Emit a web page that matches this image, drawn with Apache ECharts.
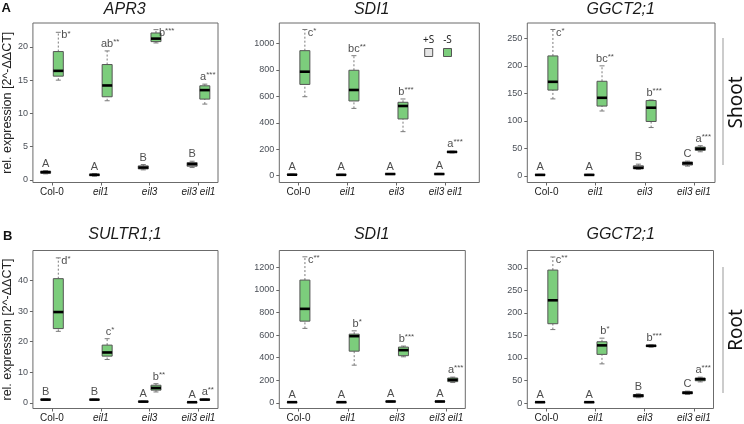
<!DOCTYPE html>
<html><head><meta charset="utf-8">
<script src="https://cdn.jsdelivr.net/npm/echarts@6/dist/echarts.min.js"></script>
<style>html,body{margin:0;padding:0;background:#fff}#c{width:744px;height:424px}</style>
</head><body><div id="c"></div>
<script>
// ---------------- DATA ----------------
const genotypes = ['Col-0', 'eil1', 'eil3', 'eil3 eil1'];
const conditions = ['+S', '-S'];
const panelTitles = ['APR3', 'SDI1', 'GGCT2;1', 'SULTR1;1', 'SDI1', 'GGCT2;1'];
const tissues = ['Shoot', 'Root'];
const yAxisTitle = 'rel. expression [2^-ΔΔCT]';

// box statistics per genotype: [min, Q1, median, Q3, max]
const apr3ShootPlusS  = [[0.9, 1.0, 1.15, 1.3, 1.4], [0.55, 0.65, 0.75, 0.85, 0.95], [1.5, 1.65, 1.85, 2.1, 2.3], [1.85, 2.05, 2.35, 2.6, 2.8]];
const apr3ShootMinusS = [[15.0, 15.6, 16.4, 19.3, 22.2], [11.9, 12.5, 14.2, 17.35, 19.4], [20.6, 20.8, 21.25, 22.1, 22.6], [11.4, 12.15, 13.5, 14.15, 14.4]];
const sdi1ShootPlusS  = [[4, 6, 8, 10, 12], [3, 5, 7, 9, 11], [9, 11, 13, 15, 17], [9, 11, 13, 15, 18]];
const sdi1ShootMinusS = [[597, 690, 786, 945, 1105], [509, 565, 648, 797, 907], [333, 429, 527, 555, 580], [172, 176, 180, 183, 186]];
const ggctShootPlusS  = [[1, 1.5, 2, 2.5, 3], [1, 1.5, 2, 2.5, 3], [12, 13, 15, 18.5, 21.5], [18, 20, 23, 25.5, 27]];
const ggctShootMinusS = [[140, 156, 171, 218, 266], [118, 127, 142, 172, 200], [88, 99, 124, 137, 138], [44, 46.5, 49.5, 52.5, 55]];
const sultrRootPlusS  = [[0.9, 1.0, 1.1, 1.2, 1.3], [0.95, 1.0, 1.1, 1.15, 1.25], [0.3, 0.4, 0.45, 0.5, 0.6], [0.15, 0.2, 0.25, 0.3, 0.35]];
const sultrRootMinusS = [[23.4, 24.3, 29.7, 40.6, 47.4], [14.2, 15.3, 16.5, 18.9, 21.0], [3.6, 4.2, 4.9, 5.8, 6.3], [0.95, 1.05, 1.1, 1.2, 1.3]];
const sdi1RootPlusS   = [[3, 5, 6, 8, 10], [3, 4, 6, 7, 9], [8, 10, 12, 14, 16], [8, 10, 12, 14, 16]];
const sdi1RootMinusS  = [[660, 724, 833, 1088, 1294], [334, 458, 591, 609, 638], [408, 418, 467, 494, 503], [180, 188, 204, 220, 228]];
const ggctRootPlusS   = [[1, 1.5, 2, 2.5, 3], [1, 1.5, 2, 2.5, 3], [12, 13.5, 16.5, 19, 20.5], [19, 20.5, 23, 25, 26.5]];
const ggctRootMinusS  = [[163, 176, 228, 295, 324], [87, 108, 128, 136, 144], [124, 125.5, 127, 128, 129], [47, 49.5, 53, 55.5, 57.5]];

// significance letters
const apr3ShootLettersPlus  = ['A', 'A', 'B', 'B'];
const apr3ShootLettersMinus = ['b*', 'ab**', 'b***', 'a***'];
const sdi1ShootLettersPlus  = ['A', 'A', 'A', 'A'];
const sdi1ShootLettersMinus = ['c*', 'bc**', 'b***', 'a***'];
const ggctShootLettersPlus  = ['A', 'A', 'B', 'C'];
const ggctShootLettersMinus = ['c*', 'bc**', 'b***', 'a***'];
const sultrRootLettersPlus  = ['B', 'B', 'A', 'A'];
const sultrRootLettersMinus = ['d*', 'c*', 'b**', 'a**'];
const sdi1RootLettersPlus   = ['A', 'A', 'A', 'A'];
const sdi1RootLettersMinus  = ['c**', 'b*', 'b***', 'a***'];
const ggctRootLettersPlus   = ['A', 'A', 'B', 'C'];
const ggctRootLettersMinus  = ['c**', 'b*', 'b***', 'a***'];

// y tick labels
const apr3ShootTicks = [0, 5, 10, 15, 20];
const sdi1ShootTicks = [0, 200, 400, 600, 800, 1000];
const ggctShootTicks = [0, 50, 100, 150, 200, 250];
const sultrRootTicks = [0, 10, 20, 30, 40];
const sdi1RootTicks  = [0, 200, 400, 600, 800, 1000, 1200];
const ggctRootTicks  = [0, 50, 100, 150, 200, 250, 300];

// ---------------- LAYOUT / STYLE ----------------
const FONT = '"Liberation Sans", Arial, Helvetica, sans-serif';
const COLOR_PLUS = '#E5E5E5';
const COLOR_MINUS = '#7CCD7C';
const OFF = 0.13;

const panels = [
  { title: panelTitles[0], plus: apr3ShootPlusS, minus: apr3ShootMinusS, lp: apr3ShootLettersPlus, lm: apr3ShootLettersMinus, ticks: apr3ShootTicks,
    grid: { left: 31.5, top: 23, width: 186.5, height: 159.5 }, y: [-0.4, 23.6], x: [0.61, 4.40], tx: 124.7, ty: 1.5, yName: true },
  { title: panelTitles[1], plus: sdi1ShootPlusS, minus: sdi1ShootMinusS, lp: sdi1ShootLettersPlus, lm: sdi1ShootLettersMinus, ticks: sdi1ShootTicks,
    grid: { left: 279.3, top: 23, width: 200, height: 159.5 }, y: [-51, 1154], x: [0.609, 4.685], tx: 371.7, ty: 1.5 },
  { title: panelTitles[2], plus: ggctShootPlusS, minus: ggctShootMinusS, lp: ggctShootLettersPlus, lm: ggctShootLettersMinus, ticks: ggctShootTicks,
    grid: { left: 527.3, top: 23, width: 187.7, height: 159.5 }, y: [-11.8, 277.8], x: [0.609, 4.43], tx: 620.7, ty: 1.5 },
  { title: panelTitles[3], plus: sultrRootPlusS, minus: sultrRootMinusS, lp: sultrRootLettersPlus, lm: sultrRootLettersMinus, ticks: sultrRootTicks,
    grid: { left: 31.5, top: 250.5, width: 186.5, height: 158 }, y: [-1.8, 49.8], x: [0.61, 4.40], tx: 125, ty: 226.5, yName: true },
  { title: panelTitles[4], plus: sdi1RootPlusS, minus: sdi1RootMinusS, lp: sdi1RootLettersPlus, lm: sdi1RootLettersMinus, ticks: sdi1RootTicks,
    grid: { left: 279.3, top: 250.5, width: 186, height: 158 }, y: [-50, 1350], x: [0.61, 4.385], tx: 371.7, ty: 226.5 },
  { title: panelTitles[5], plus: ggctRootPlusS, minus: ggctRootMinusS, lp: ggctRootLettersPlus, lm: ggctRootLettersMinus, ticks: ggctRootTicks,
    grid: { left: 527.3, top: 250.5, width: 186.2, height: 158 }, y: [-12, 338.4], x: [0.61, 4.40], tx: 620.7, ty: 226.5 }
];

function boxData(plus, minus) {
  const out = [];
  genotypes.forEach((g, i) => {
    out.push([i + 1 - OFF].concat(plus[i], [0]));
    out.push([i + 1 + OFF].concat(minus[i], [1]));
  });
  return out;
}

function letterText(s) {
  const base = s.replace(/\*+$/, '');
  const stars = s.slice(base.length);
  return '{b|' + base + '}' + (stars ? '{s|' + stars + '}' : '');
}

function letterData(p) {
  const out = [];
  genotypes.forEach((g, i) => {
    out.push({ value: [i + 1 - OFF, p.plus[i][4]], label: { formatter: letterText(p.lp[i]), position: 'top', distance: 1 } });
    // labels that would collide with the top of the frame go to the right of the whisker
    const right = (p.minus[i][4] - p.y[0]) / (p.y[1] - p.y[0]) > 0.9;
    out.push({ value: [i + 1 + OFF, p.minus[i][4]], label: right
      ? { formatter: letterText(p.lm[i]), position: 'right', distance: 3, offset: [0, 3] }
      : { formatter: letterText(p.lm[i]), position: 'top', distance: 1, offset: [3, 0] } });
  });
  return out;
}

function renderBox(params, api) {
  const x = api.value(0);
  const cond = api.value(6);
  const p = [1, 2, 3, 4, 5].map(k => api.coord([x, api.value(k)]));
  const cx = p[0][0];
  const hw = 5, cw = 2.5;
  const wStyle = { stroke: '#7a7a7a', lineWidth: 1, lineDash: [2, 2] };
  const cStyle = { stroke: '#7a7a7a', lineWidth: 1 };
  return {
    type: 'group',
    children: [
      { type: 'line', shape: { x1: cx, y1: p[3][1], x2: cx, y2: p[4][1] }, style: wStyle },
      { type: 'line', shape: { x1: cx, y1: p[0][1], x2: cx, y2: p[1][1] }, style: wStyle },
      { type: 'line', shape: { x1: cx - cw, y1: p[4][1], x2: cx + cw, y2: p[4][1] }, style: cStyle },
      { type: 'line', shape: { x1: cx - cw, y1: p[0][1], x2: cx + cw, y2: p[0][1] }, style: cStyle },
      { type: 'rect', shape: { x: cx - hw, y: p[3][1], width: 2 * hw, height: Math.max(p[1][1] - p[3][1], 0.5) },
        style: { fill: cond === 0 ? COLOR_PLUS : COLOR_MINUS, stroke: '#555', lineWidth: 1 } },
      { type: 'line', shape: { x1: cx - hw, y1: p[2][1], x2: cx + hw, y2: p[2][1] }, style: { stroke: '#000', lineWidth: 2.6 } }
    ]
  };
}

const grids = [], xAxes = [], yAxes = [], series = [], titles = [];
panels.forEach((p, i) => {
  grids.push(Object.assign({ show: true, borderColor: '#6b6b6b', borderWidth: 1, backgroundColor: 'transparent', containLabel: false }, p.grid));
  xAxes.push({
    type: 'value', gridIndex: i, min: p.x[0], max: p.x[1],
    splitLine: { show: false }, axisLine: { show: false, onZero: false },
    axisTick: { show: true, customValues: [1, 2, 3, 4], length: 3, lineStyle: { color: '#666' } },
    axisLabel: {
      customValues: [1, 2, 3, 4], margin: 5, fontSize: 10, color: '#222', fontFamily: FONT,
      formatter: v => {
        const g = genotypes[Math.round(v) - 1];
        return g === 'Col-0' ? '{n|' + g + '}' : '{i|' + g + '}';
      },
      rich: { n: { fontSize: 10, color: '#222', fontFamily: FONT }, i: { fontSize: 10, color: '#222', fontStyle: 'italic', fontFamily: FONT } }
    }
  });
  yAxes.push({
    type: 'value', gridIndex: i, min: p.y[0], max: p.y[1],
    splitLine: { show: false }, axisLine: { show: false, onZero: false },
    axisTick: { show: true, customValues: p.ticks, length: 3, lineStyle: { color: '#666' } },
    axisLabel: { customValues: p.ticks, margin: 5, fontSize: 9, color: '#4a4f57', fontFamily: FONT, formatter: v => String(v) },
    name: p.yName ? yAxisTitle : '', nameLocation: 'middle', nameRotate: 90, nameGap: 18,
    nameTextStyle: { fontSize: 12.5, color: '#222', fontFamily: FONT }
  });
  series.push({
    type: 'custom', xAxisIndex: i, yAxisIndex: i, renderItem: renderBox,
    encode: { x: 0, y: [1, 2, 3, 4, 5] }, data: boxData(p.plus, p.minus), silent: true, animation: false
  });
  series.push({
    type: 'scatter', xAxisIndex: i, yAxisIndex: i, symbolSize: 0, silent: true, animation: false,
    label: {
      show: true, color: '#222', fontFamily: FONT,
      rich: { b: { fontSize: 11, color: '#222', fontFamily: FONT, lineHeight: 12 },
              s: { fontSize: 8, color: '#222', fontFamily: FONT, verticalAlign: 'top', lineHeight: 12, padding: [0, 0, 4, 0] } }
    },
    data: letterData(p)
  });
  titles.push({
    text: p.title, left: p.tx, top: p.ty, textAlign: 'center', padding: 0,
    textStyle: { fontSize: 16, fontStyle: 'italic', fontWeight: 'normal', color: '#1a1a1a', fontFamily: FONT }
  });
});

const graphic = [
  { type: 'text', left: 1.5, top: 2, style: { text: 'A', fontSize: 13, fontWeight: 'bold', fill: '#111', font: 'bold 13px ' + FONT } },
  { type: 'text', left: 3, top: 230, style: { text: 'B', fontSize: 13, fontWeight: 'bold', fill: '#111', font: 'bold 13px ' + FONT } },
  { type: 'line', shape: { x1: 723, y1: 38, x2: 723, y2: 165 }, style: { stroke: '#999', lineWidth: 1 } },
  { type: 'line', shape: { x1: 723, y1: 267, x2: 723, y2: 393 }, style: { stroke: '#999', lineWidth: 1 } },
  { type: 'text', x: 737, y: 102.5, rotation: Math.PI / 2,
    style: { text: tissues[0], font: '19px "Noto Sans", sans-serif', fill: '#111', textAlign: 'center', textVerticalAlign: 'middle' } },
  { type: 'text', x: 737, y: 330, rotation: Math.PI / 2,
    style: { text: tissues[1], font: '19px "Noto Sans", sans-serif', fill: '#111', textAlign: 'center', textVerticalAlign: 'middle' } },
  // legend of panel SDI1 shoot
  { type: 'text', x: 428.7, y: 40, style: { text: conditions[0], font: '10px "Noto Sans", sans-serif', fill: '#222', textAlign: 'center', textVerticalAlign: 'middle' } },
  { type: 'text', x: 447.5, y: 40, style: { text: conditions[1], font: '10px "Noto Sans", sans-serif', fill: '#222', textAlign: 'center', textVerticalAlign: 'middle' } },
  { type: 'rect', shape: { x: 424.7, y: 48.5, width: 8, height: 8 }, style: { fill: COLOR_PLUS, stroke: '#555', lineWidth: 1 } },
  { type: 'rect', shape: { x: 443.5, y: 48.5, width: 8, height: 8 }, style: { fill: COLOR_MINUS, stroke: '#555', lineWidth: 1 } }
];

const chart = echarts.init(document.getElementById('c'), null, { renderer: 'canvas' });
chart.setOption({
  animation: false,
  backgroundColor: '#fff',
  textStyle: { fontFamily: FONT },
  title: titles,
  grid: grids,
  xAxis: xAxes,
  yAxis: yAxes,
  series: series,
  graphic: graphic
});
</script>
</body></html>
